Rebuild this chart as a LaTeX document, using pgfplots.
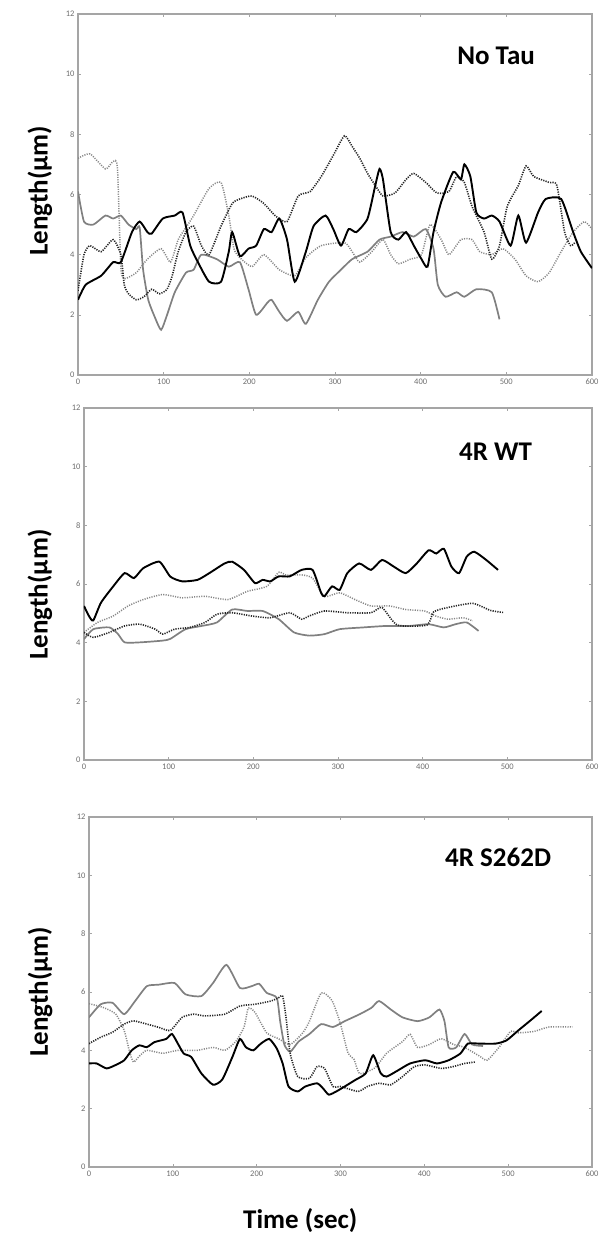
\documentclass[border=0pt]{standalone}
\usepackage{fontspec}
\setmainfont{Carlito}
\usepackage{pgfplots}
\pgfplotsset{compat=1.18}
\definecolor{axgray}{RGB}{165,165,165}
\definecolor{tkgray}{RGB}{110,110,110}
\definecolor{solgray}{RGB}{128,128,128}
\definecolor{dotgray}{RGB}{135,135,135}
\tikzset{ttl/.style={font=\bfseries\fontsize{27}{29}\selectfont, anchor=center}}
\pgfplotsset{
  panel/.style={
    scale only axis,
    anchor=south west,
    xmin=0, xmax=600, ymin=0, ymax=12,
    xtick={0,100,...,600}, ytick={0,2,...,12},
    tick align=inside,
    major tick length=3pt,
    axis line style={axgray, line width=1.2pt},
    every tick/.style={axgray, line width=0.6pt},
    tick label style={font=\fontsize{8.5}{9}\selectfont, text=tkgray},
    /pgf/number format/assume math mode=true,
    ylabel={Length(μm)},
    ylabel style={font=\bfseries\fontsize{27}{29}\selectfont, anchor=center},
    clip=true,
  },
  blk/.style={black, line width=1.9pt, smooth, tension=0.35, no markers},
  dkdot/.style={black!85, line width=1.6pt, dash pattern=on 1.2pt off 1.2pt, smooth, tension=0.35, no markers},
  gysol/.style={solgray, line width=1.7pt, smooth, tension=0.35, no markers},
  gydot/.style={dotgray, line width=1.5pt, dash pattern=on 1.1pt off 1.3pt, smooth, tension=0.35, no markers},
}
\begin{document}
\begin{tikzpicture}
\path[use as bounding box] (0,0) rectangle (605pt,1239pt);
% ---------------- Panel 1: No Tau ----------------
\begin{axis}[panel, at={(78pt,864pt)}, width=514pt, height=361pt,
  ylabel style={at={(axis description cs:-0.074,0.51)}}]
\addplot[gydot] coordinates {(0,7.2) (14,7.35) (32,6.85) (41,7.1) (46,6.9) (50,3.6) (54,3.2) (68,3.4) (81,3.85) (97,4.2) (108,3.75) (117,4.5) (126,4.9) (135,5.3) (153,6.2) (167,6.4) (176,5.3) (182,4.2) (189,3.9) (203,3.6) (217,4.0) (235,3.5) (253,3.3) (266,3.9) (284,4.3) (311,4.4) (320,4.1) (329,3.75) (343,4.1) (356,4.5) (365,4.0) (374,3.7) (388,3.85) (401,4.0) (411,5.0) (424,4.5) (433,4.0) (447,4.5) (460,4.5) (469,4.1) (483,4.0) (496,4.2) (510,3.85) (523,3.3) (537,3.1) (550,3.4) (564,4.1) (578,4.75) (591,5.1) (600,4.85)};
\addplot[gysol] coordinates {(0,6.1) (7,5.1) (18,5.0) (32,5.3) (41,5.2) (50,5.3) (59,5.0) (68,4.85) (72,4.9) (76,3.5) (82,2.5) (90,1.9) (97,1.5) (104,2.0) (113,2.75) (126,3.4) (135,3.5) (144,4.0) (162,3.85) (176,3.6) (189,3.75) (199,2.85) (208,2.0) (221,2.4) (226,2.5) (235,2.1) (244,1.8) (257,2.1) (266,1.7) (280,2.5) (293,3.1) (307,3.5) (320,3.85) (338,4.1) (352,4.5) (365,4.6) (379,4.75) (392,4.6) (406,4.85) (415,4.2) (420,3.0) (429,2.6) (442,2.75) (451,2.6) (465,2.85) (483,2.75) (492,1.85)};
\addplot[dkdot] coordinates {(0,2.8) (7,4.0) (14,4.3) (27,4.1) (41,4.5) (50,4.0) (54,3.0) (59,2.7) (68,2.5) (77,2.6) (86,2.85) (95,2.7) (104,2.85) (110,3.3) (117,4.1) (126,4.75) (135,4.95) (144,4.3) (153,4.0) (167,4.95) (180,5.7) (189,5.85) (203,5.95) (217,5.7) (230,5.3) (244,5.1) (257,5.95) (271,6.1) (284,6.6) (298,7.3) (311,7.95) (320,7.6) (329,7.2) (338,6.7) (347,6.3) (356,5.95) (370,6.05) (383,6.5) (392,6.7) (406,6.4) (419,6.05) (433,6.1) (442,6.6) (451,6.4) (460,5.6) (474,4.75) (483,3.85) (492,4.3) (501,5.6) (514,6.3) (523,6.95) (532,6.6) (550,6.4) (559,6.3) (568,4.75) (575,4.3) (580,4.4)};
\addplot[blk] coordinates {(0,2.5) (9,3.0) (27,3.3) (41,3.75) (50,3.75) (63,4.75) (72,5.1) (81,4.75) (86,4.7) (99,5.2) (113,5.3) (122,5.4) (131,4.3) (140,3.75) (153,3.1) (167,3.1) (176,4.1) (180,4.75) (189,3.95) (199,4.2) (208,4.3) (217,4.85) (226,4.75) (235,5.2) (244,4.5) (253,3.1) (266,4.1) (275,4.95) (289,5.3) (298,4.85) (307,4.3) (316,4.85) (325,4.75) (338,5.2) (347,6.3) (352,6.85) (356,6.5) (365,4.75) (374,4.5) (383,4.75) (392,4.3) (401,3.85) (408,3.6) (415,4.75) (424,5.75) (438,6.75) (447,6.5) (451,7.0) (458,6.6) (465,5.4) (474,5.2) (483,5.3) (492,5.1) (505,4.3) (514,5.3) (523,4.4) (537,5.4) (546,5.85) (564,5.85) (578,4.75) (587,4.1) (600,3.55)};
\node[ttl] at (axis cs:488,10.6) {No Tau};
\end{axis}
% ---------------- Panel 2: 4R WT ----------------
\begin{axis}[panel, at={(84pt,479pt)}, width=508pt, height=352pt,
  ylabel style={at={(axis description cs:-0.087,0.47)}}]
\addplot[gysol] coordinates {(0,4.12) (11,4.46) (30,4.52) (40,4.3) (48,4.01) (66,4.01) (93,4.07) (102,4.13) (120,4.46) (139,4.57) (157,4.69) (175,5.13) (193,5.08) (211,5.08) (230,4.8) (248,4.35) (266,4.24) (284,4.29) (302,4.46) (330,4.52) (357,4.57) (384,4.57) (407,4.63) (425,4.52) (439,4.63) (452,4.69) (466,4.4)};
\addplot[gydot] coordinates {(0,4.35) (16,4.69) (34,4.9) (52,5.25) (70,5.47) (93,5.64) (116,5.53) (143,5.58) (170,5.47) (193,5.75) (216,5.92) (230,6.4) (239,6.3) (257,6.31) (270,6.2) (284,5.58) (302,5.7) (320,5.47) (339,5.25) (361,5.25) (380,5.13) (402,5.08) (416,4.9) (430,4.8) (448,4.85) (459,4.74)};
\addplot[dkdot] coordinates {(0,4.35) (11,4.18) (30,4.35) (48,4.57) (66,4.63) (84,4.46) (93,4.29) (107,4.46) (125,4.52) (143,4.69) (157,4.97) (175,5.02) (198,4.91) (220,4.85) (243,5.02) (257,4.8) (266,4.91) (284,5.08) (311,5.02) (339,5.02) (352,5.2) (370,4.6) (405,4.6) (413,5.05) (430,5.2) (459,5.34) (480,5.1) (495,5.03)};
\addplot[blk] coordinates {(0,5.25) (6,4.9) (11,4.76) (20,5.36) (34,5.9) (48,6.37) (59,6.2) (70,6.54) (89,6.76) (102,6.25) (116,6.09) (134,6.14) (148,6.37) (166,6.7) (175,6.76) (189,6.48) (202,6.03) (211,6.14) (220,6.09) (230,6.26) (243,6.26) (257,6.48) (270,6.48) (280,5.7) (284,5.58) (293,5.92) (302,5.8) (311,6.37) (325,6.7) (339,6.48) (352,6.82) (366,6.59) (380,6.37) (393,6.7) (407,7.15) (416,7.04) (425,7.2) (434,6.59) (443,6.37) (452,6.93) (461,7.1) (475,6.82) (489,6.48)};
\node[ttl] at (axis cs:486,10.5) {4R WT};
\end{axis}
% ---------------- Panel 3: 4R S262D ----------------
\begin{axis}[panel, at={(89pt,72pt)}, width=503pt, height=350pt,
  ylabel style={at={(axis description cs:-0.097,0.5)}},
  xlabel={Time (sec)},
  xlabel style={font=\bfseries\fontsize{27}{29}\selectfont, at={(axis description cs:0.42,-0.152)}, anchor=center}]
\addplot[gysol] coordinates {(0,5.13) (14,5.58) (28,5.63) (42,5.24) (55,5.69) (69,6.2) (83,6.25) (102,6.31) (115,5.92) (134,5.86) (148,6.31) (164,6.93) (180,6.14) (194,6.2) (203,6.28) (212,5.97) (224,5.8) (228,5.0) (233,4.2) (240,3.95) (250,4.3) (263,4.56) (277,4.9) (291,4.8) (305,5.0) (323,5.24) (337,5.46) (346,5.69) (360,5.4) (374,5.13) (392,5.0) (406,5.13) (418,5.4) (424,5.0) (429,4.1) (438,4.1) (448,4.56) (457,4.2) (470,4.15)};
\addplot[gydot] coordinates {(0,5.6) (18,5.46) (32,5.24) (42,4.68) (48,4.0) (53,3.6) (60,3.8) (69,4.0) (88,3.9) (106,4.0) (129,4.0) (148,4.1) (162,4.0) (175,4.3) (185,4.8) (190,5.45) (198,5.3) (212,4.6) (226,4.4) (240,4.2) (255,4.6) (263,5.0) (277,5.97) (290,5.7) (300,4.9) (309,3.9) (316,3.7) (323,3.2) (341,3.4) (355,3.9) (374,4.3) (383,4.55) (392,4.1) (406,4.2) (420,4.4) (435,4.2) (448,4.1) (466,3.8) (475,3.66) (489,4.1) (503,4.65) (512,4.6) (531,4.65) (549,4.8) (577,4.8)};
\addplot[dkdot] coordinates {(0,4.23) (14,4.45) (28,4.62) (42,4.9) (53,5.01) (69,4.9) (83,4.79) (97,4.68) (111,5.13) (125,5.24) (138,5.18) (162,5.24) (180,5.52) (198,5.58) (217,5.69) (226,5.8) (231,5.86) (235,5.13) (240,3.89) (249,3.1) (263,3.04) (272,3.44) (281,3.38) (291,2.76) (300,2.76) (321,2.59) (332,2.76) (346,2.87) (360,2.82) (374,3.1) (388,3.44) (401,3.5) (420,3.38) (434,3.44) (448,3.55) (461,3.6)};
\addplot[blk] coordinates {(0,3.55) (9,3.55) (21,3.38) (32,3.5) (42,3.66) (51,4.0) (60,4.17) (69,4.11) (78,4.28) (92,4.39) (99,4.56) (106,4.23) (113,3.89) (122,3.77) (134,3.21) (148,2.82) (159,3.0) (171,3.77) (180,4.39) (187,4.11) (196,4.0) (205,4.23) (215,4.39) (224,4.06) (231,3.55) (238,2.76) (249,2.59) (258,2.76) (272,2.87) (279,2.7) (286,2.48) (295,2.59) (305,2.76) (318,2.99) (330,3.21) (339,3.83) (348,3.21) (355,3.1) (369,3.32) (383,3.55) (401,3.66) (415,3.55) (429,3.66) (443,3.89) (452,4.23) (466,4.23) (485,4.23) (498,4.34) (512,4.68) (526,5.01) (540,5.35)};
\node[ttl] at (axis cs:488,10.6) {4R S262D};
\end{axis}
\end{tikzpicture}
\end{document}
